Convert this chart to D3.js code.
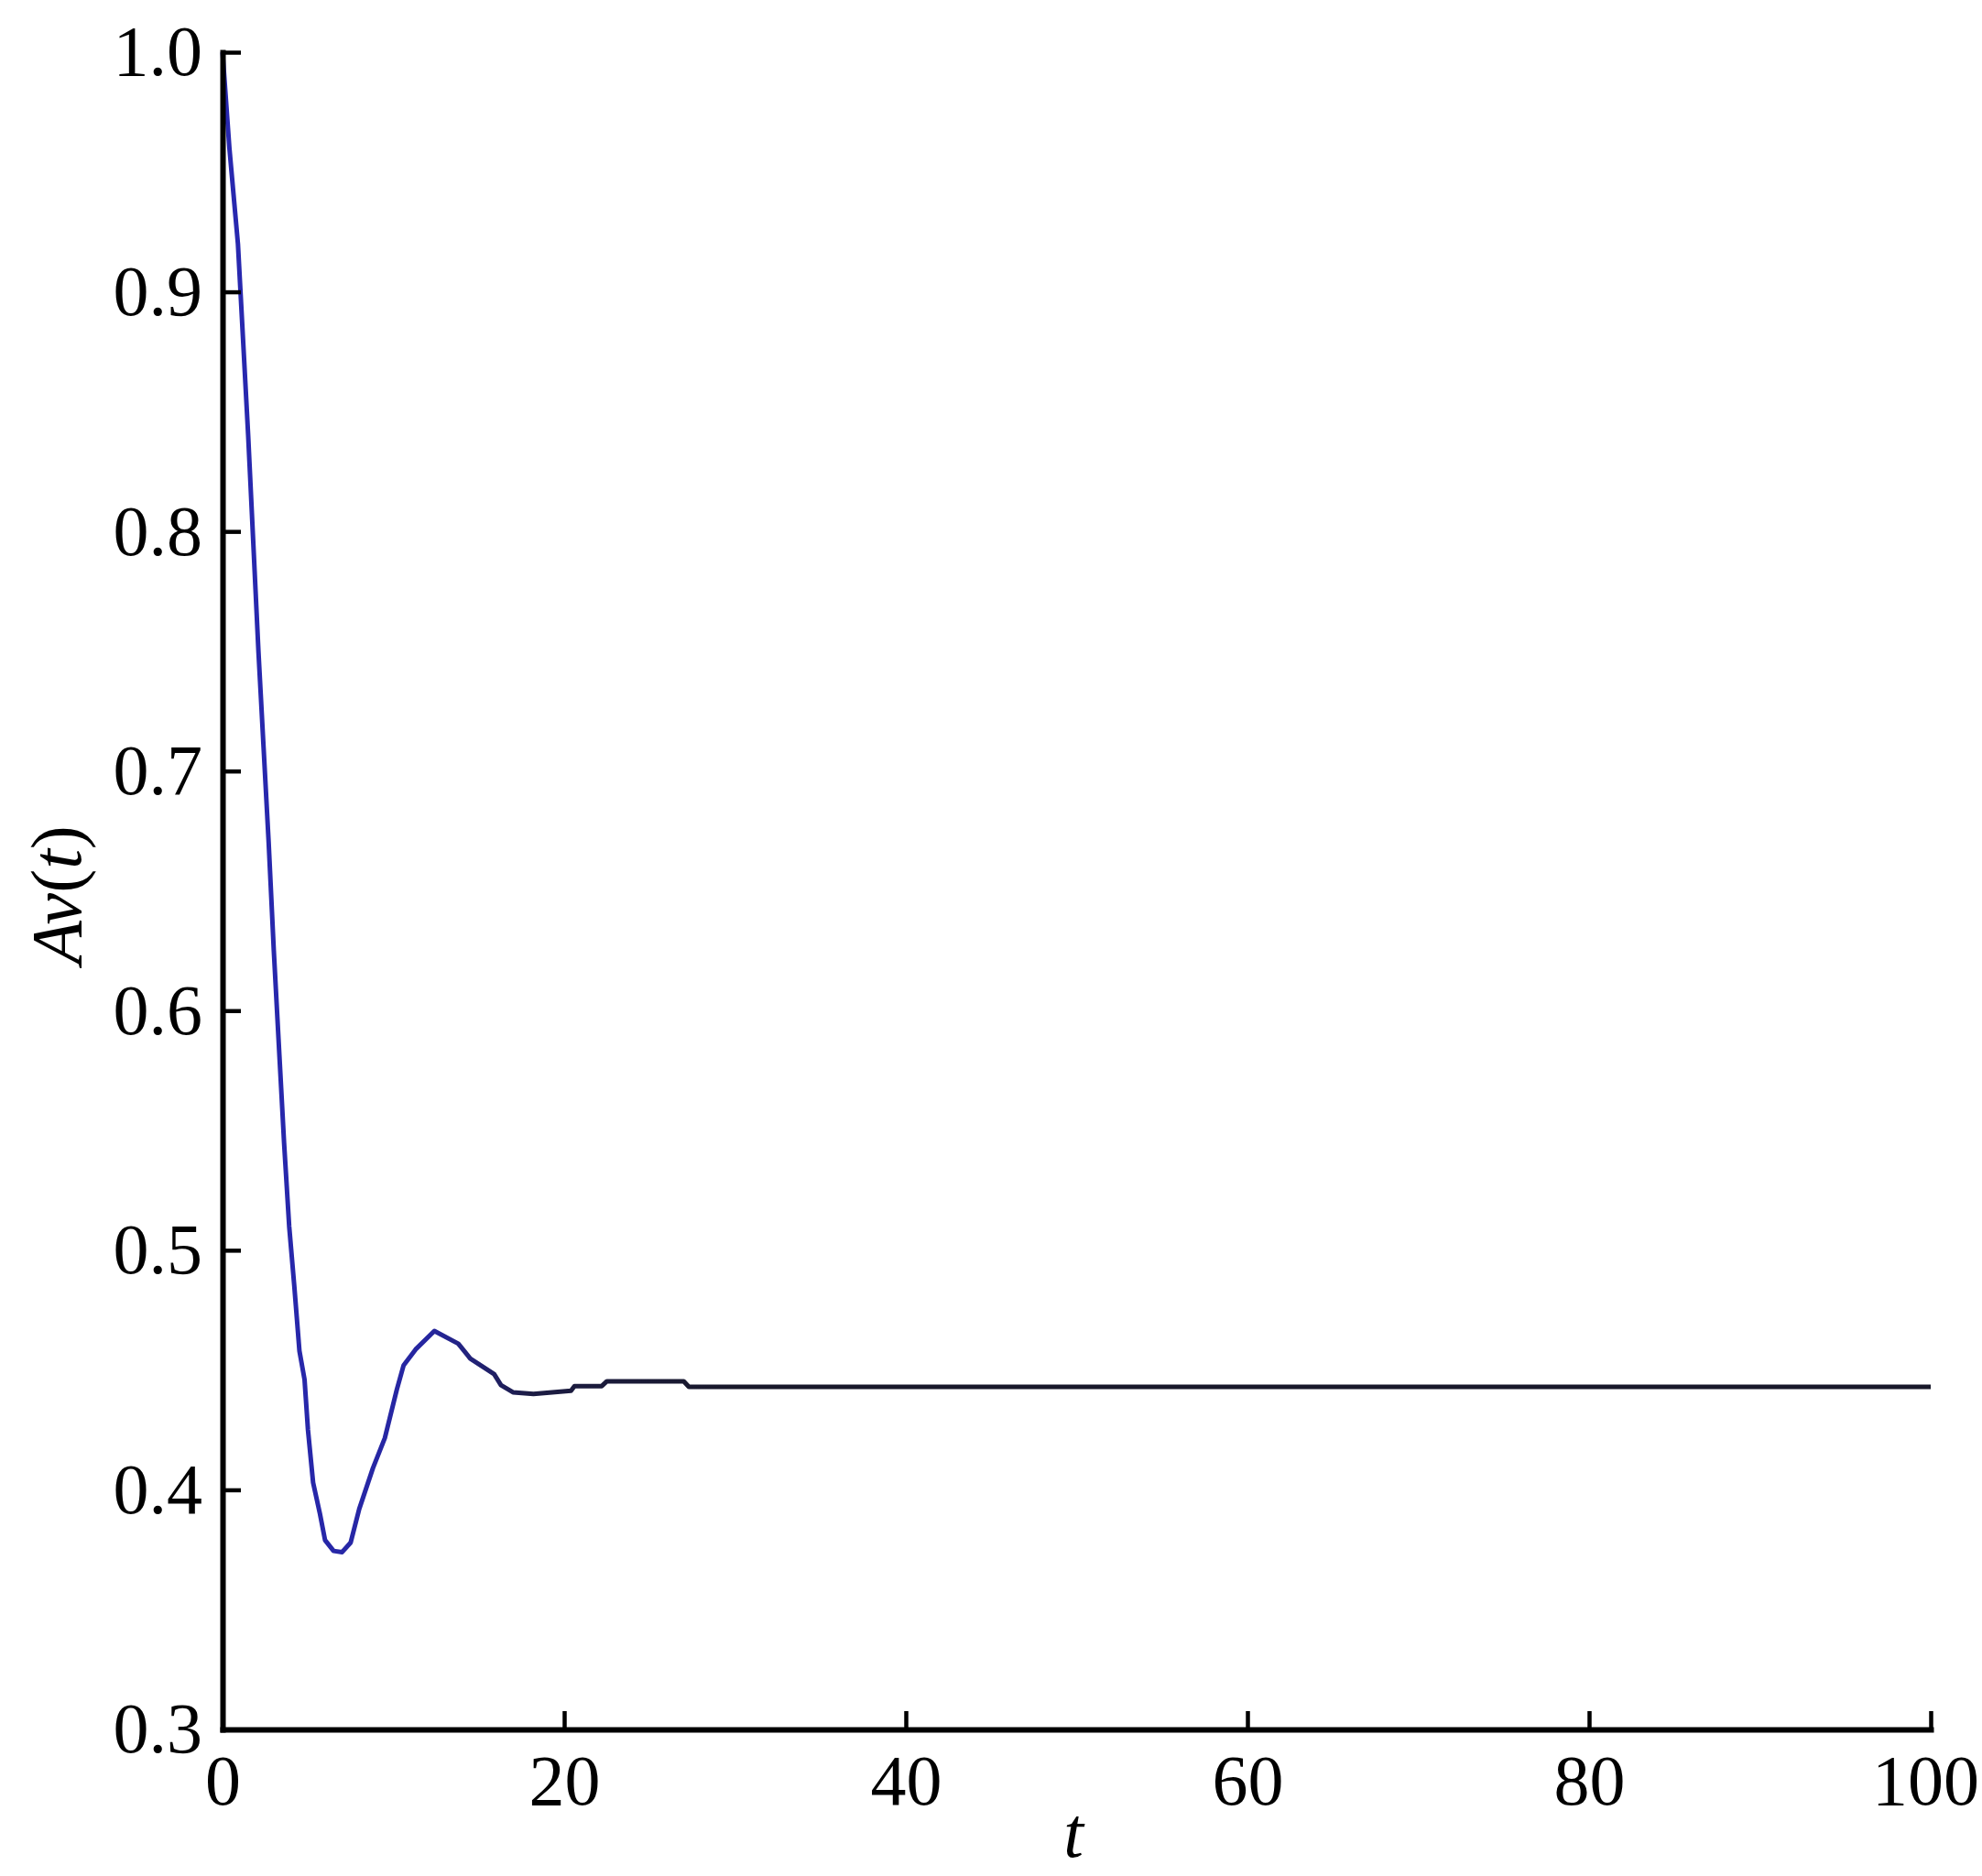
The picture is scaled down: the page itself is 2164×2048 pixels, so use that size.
<!DOCTYPE html>
<html>
<head>
<meta charset="utf-8">
<script src="https://cdn.jsdelivr.net/npm/d3@7"></script>
<style>
  html, body { margin: 0; padding: 0; background: #fff; }
  svg { display: block; }
  text { font-family: "Liberation Serif", "Times New Roman", serif; fill: #000; }
</style>
</head>
<body>
<script>
// ---- data ----
const tValues = [0, 0.4, 0.9, 1.2, 1.5, 1.8, 2.1, 2.4, 2.7, 3.0, 3.3, 3.6, 3.9, 4.2, 4.5, 4.8, 5.0, 5.3, 5.7, 6.0, 6.5, 7.0, 7.5, 8.0, 8.8, 9.5, 10.2, 10.6, 11.3, 12.4, 13.8, 14.5, 15.9, 16.3, 17.0, 18.2, 20.4, 20.6, 22.2, 22.5, 27.0, 27.3, 40, 60, 80, 100];
const avValues = [1.0, 0.96, 0.92, 0.88, 0.84, 0.795, 0.75, 0.71, 0.67, 0.625, 0.585, 0.545, 0.51, 0.485, 0.458, 0.446, 0.425, 0.403, 0.39, 0.379, 0.3745, 0.374, 0.378, 0.392, 0.409, 0.4216, 0.4418, 0.452, 0.4586, 0.4663, 0.461, 0.4548, 0.4483, 0.4437, 0.4407, 0.440, 0.4414, 0.4433, 0.4433, 0.4453, 0.4453, 0.443, 0.443, 0.443, 0.443, 0.443];
const xTicks = [0, 20, 40, 60, 80, 100];
const yTicks = [0.3, 0.4, 0.5, 0.6, 0.7, 0.8, 0.9, 1.0];
const xLabel = "t";
const yLabelVar = "t";

const W = 2164, H = 2048;
const svg = d3.select("body").append("svg").attr("width", W).attr("height", H);

const x = d3.scaleLinear().domain([0, 100]).range([243, 2108]);
const y = d3.scaleLinear().domain([0.3, 1.0]).range([1888, 57]);

// gradient for the line colour (blue early, near-black later)
const defs = svg.append("defs");
const grad = defs.append("linearGradient").attr("id", "lg")
  .attr("gradientUnits", "userSpaceOnUse")
  .attr("x1", x(0)).attr("x2", x(30)).attr("y1", 0).attr("y2", 0);
grad.append("stop").attr("offset", "0%").attr("stop-color", "#2828b0");
grad.append("stop").attr("offset", "40%").attr("stop-color", "#2626a0");
grad.append("stop").attr("offset", "60%").attr("stop-color", "#1c1c44");
grad.append("stop").attr("offset", "100%").attr("stop-color", "#18182a");

const data = tValues.map((t, i) => ({ t, v: avValues[i] }));

// line
svg.append("path")
  .datum(data)
  .attr("fill", "none")
  .attr("stroke", "url(#lg)")
  .attr("stroke-width", 5)
  .attr("stroke-linejoin", "round")
  .attr("d", d3.line().x(d => x(d.t)).y(d => y(d.v)));

// axes
const fontSize = 78;
const yAxis = d3.axisLeft(y).tickValues(yTicks).tickFormat(d3.format(".1f"))
  .tickSizeInner(-20).tickSizeOuter(0).tickPadding(22);
const xAxis = d3.axisBottom(x).tickValues(xTicks).tickFormat(d3.format("d"))
  .tickSizeInner(-20).tickSizeOuter(0).tickPadding(27);

const gy = svg.append("g").attr("transform", `translate(${x(0)},0)`).call(yAxis);
const gx = svg.append("g").attr("transform", `translate(0,${y(0.3)})`).call(xAxis);

[gx, gy].forEach(g => {
  g.select(".domain").attr("stroke", "#000").attr("stroke-width", 6).attr("stroke-linecap", "square");
  g.selectAll(".tick line").attr("stroke", "#000").attr("stroke-width", 4.5);
  g.selectAll(".tick text").attr("font-size", fontSize)
    .attr("font-family", "Liberation Serif, Times New Roman, serif").attr("fill", "#000");
});
gy.selectAll(".tick").filter(d => d === 0.3).select("line").remove();
// keep the last x label inside the canvas
gx.selectAll(".tick").filter(d => d === 100).select("text").attr("dx", -6);

// axis labels
svg.append("text")
  .attr("x", 1172).attr("y", 2027)
  .attr("text-anchor", "middle")
  .attr("font-size", fontSize)
  .attr("font-style", "italic")
  .text(xLabel);

const yl = svg.append("text")
  .attr("transform", "translate(88,977) rotate(-90)")
  .attr("text-anchor", "middle")
  .attr("font-size", fontSize);
yl.append("tspan").attr("font-style", "italic").text("Av");
yl.append("tspan").text("(");
yl.append("tspan").attr("font-style", "italic").text(yLabelVar);
yl.append("tspan").text(")");
</script>
</body>
</html>
